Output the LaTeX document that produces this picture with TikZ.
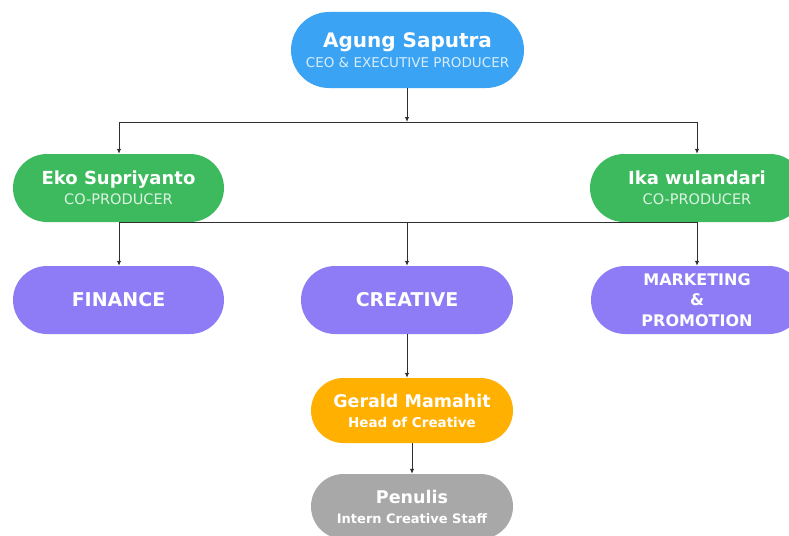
\documentclass[tikz,border=0pt]{standalone}
\usepackage{fontspec}
\setmainfont{DejaVu Sans}
\usetikzlibrary{arrows.meta,shapes.misc}
\definecolor{ceoblue}{HTML}{3AA3F3}
\definecolor{cogreen}{HTML}{3DBA5E}
\definecolor{deptpurple}{HTML}{8D7CF6}
\definecolor{headorange}{HTML}{FFB000}
\definecolor{staffgray}{HTML}{A8A8A8}
\definecolor{linegray}{HTML}{2E2E2E}
\begin{document}
\begin{tikzpicture}[x=1pt,y=-1pt,
  pill/.style={rounded rectangle, draw=none, text=white, align=center, inner sep=0pt},
  conn/.style={draw=linegray, line width=1pt},
  arr/.style={conn, -{Latex[length=5pt,width=4.5pt]}},
]
\useasboundingbox (0,0) rectangle (789,535);
\node[pill, fill=ceoblue, minimum width=233pt, minimum height=76pt,
  font=\fontsize{13.5}{19.5}\selectfont] (ceo) at (407.5,50)
  {{\fontsize{20}{20}\selectfont\bfseries Agung Saputra}\\{\color{white!80!ceoblue}CEO \& EXECUTIVE PRODUCER}};
\node[pill, fill=cogreen, minimum width=211pt, minimum height=68pt,
  font=\fontsize{14.5}{20.5}\selectfont] (eko) at (118.5,188)
  {{\fontsize{18}{18}\selectfont\bfseries Eko Supriyanto}\\{\color{white!82!cogreen}CO-PRODUCER}};
\node[pill, fill=cogreen, minimum width=214pt, minimum height=68pt,
  font=\fontsize{14.5}{20.5}\selectfont] (ika) at (697,188)
  {{\fontsize{18}{18}\selectfont\bfseries Ika wulandari}\\{\color{white!82!cogreen}CO-PRODUCER}};
\node[pill, fill=deptpurple, minimum width=211pt, minimum height=68pt,
  font=\fontsize{19}{19}\selectfont\bfseries] (fin) at (118.5,300) {FINANCE};
\node[pill, fill=deptpurple, minimum width=212pt, minimum height=68pt,
  font=\fontsize{19}{19}\selectfont\bfseries] (cre) at (407,300) {CREATIVE};
\node[pill, fill=deptpurple, minimum width=212pt, minimum height=68pt,
  font=\fontsize{16}{20.5}\selectfont\bfseries] (mkt) at (697,300)
  {MARKETING\\\&\\PROMOTION};
\node[pill, fill=headorange, minimum width=202pt, minimum height=65pt,
  font=\fontsize{13.5}{20}\selectfont\bfseries] (ger) at (412,410.5)
  {{\fontsize{17.5}{18}\selectfont Gerald Mamahit}\\Head of Creative};
\node[pill, fill=staffgray, minimum width=202pt, minimum height=65pt,
  font=\fontsize{13}{20}\selectfont\bfseries] (pen) at (412,506.5)
  {{\fontsize{17.5}{18}\selectfont Penulis}\\Intern Creative Staff};
% connectors
\coordinate (j1) at (407,122);
\coordinate (j1L) at (119,122);
\coordinate (j1R) at (697,122);
\draw[arr] (ceo.south -| j1) -- (j1);
\draw[conn] (j1L) -- (j1R);
\draw[arr] (j1L) -- (j1L |- eko.north);
\draw[arr] (j1R) -- (j1R |- ika.north);
\coordinate (j2L) at (119,222);
\coordinate (j2R) at (697,222);
\draw[conn] (j2L) -- (j2R);
\draw[arr] (j2L) -- (j2L |- fin.north);
\draw[arr] (cre.north |- j2L) -- (cre.north);
\draw[arr] (j2R) -- (j2R |- mkt.north);
\draw[arr] (cre.south) -- (cre.south |- ger.north);
\draw[arr] (ger.south) -- (pen.north);
\end{tikzpicture}
\end{document}
